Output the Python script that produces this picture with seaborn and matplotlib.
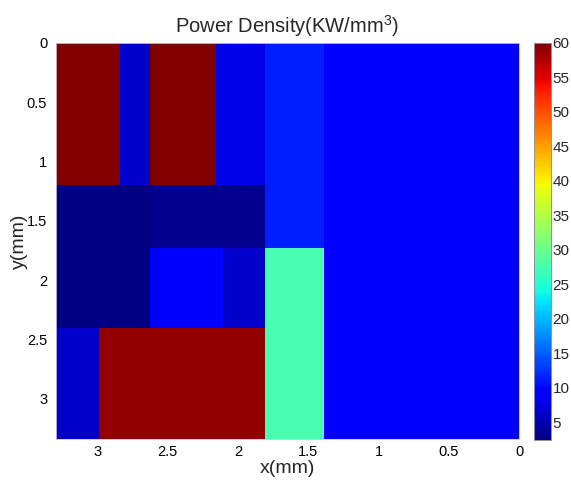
import numpy as np
import matplotlib
matplotlib.use("Agg")
import matplotlib.pyplot as plt
import seaborn as sns

# ---------------- data ----------------
# block edges in mm; x listed left -> right (axis is reversed), y top -> bottom
x_edges = [3.30, 2.99, 2.84, 2.63, 2.16, 2.11, 1.81, 1.39, 0.00]
y_edges = [0.00, 1.20, 1.725, 2.40, 3.34]
# power density (KW/mm^3) of each block: rows = y bands, cols = x bands
power_row0 = [60.0, 60.0, 6.3, 60.0, 7.7, 7.7, 11.3, 9.5]
power_row1 = [2.4, 2.4, 2.4, 3.3, 3.3, 3.3, 11.3, 9.5]
power_row2 = [2.4, 2.4, 2.4, 9.5, 9.5, 6.2, 27.5, 9.5]
power_row3 = [6.0, 59.0, 59.0, 59.0, 59.0, 59.0, 27.5, 9.5]
x_ticks = [3, 2.5, 2, 1.5, 1, 0.5, 0]
y_ticks = [0, 0.5, 1, 1.5, 2, 2.5, 3]
cbar_ticks = [5, 10, 15, 20, 25, 30, 35, 40, 45, 50, 55, 60]
c_min, c_max = 2.4, 60.0

# ---------------- build a uniform grid from the blocks ----------------
step = 0.005
power = np.array([power_row0, power_row1, power_row2, power_row3])
x_hi, y_hi = x_edges[0], y_edges[-1]
nx = int(round((x_hi - x_edges[-1]) / step))
ny = int(round((y_hi - y_edges[0]) / step))
xc = x_hi - (np.arange(nx) + 0.5) * step
yc = y_edges[0] + (np.arange(ny) + 0.5) * step
col_idx = np.searchsorted(-np.array(x_edges), -xc, side="right") - 1
row_idx = np.searchsorted(np.array(y_edges), yc, side="right") - 1
grid = power[row_idx[:, None], col_idx[None, :]]

# ---------------- style ----------------
sns.set_style("white")
plt.rcParams["font.family"] = ["Liberation Sans", "DejaVu Sans"]
plt.rcParams["mathtext.fontset"] = "custom"
plt.rcParams["mathtext.rm"] = "Liberation Sans"
plt.rcParams["mathtext.it"] = "Liberation Sans:italic"

W, H = 571, 482
fig = plt.figure(figsize=(W / 100, H / 100), dpi=100)
ax = fig.add_axes([55.5 / W, 1 - 439 / H, (519 - 55.5) / W, (439 - 43) / H])
cax = fig.add_axes([534 / W, 1 - 440 / H, 17 / W, (440 - 43) / H])

sns.heatmap(grid, ax=ax, cmap="jet", vmin=c_min, vmax=c_max, cbar_ax=cax,
            xticklabels=False, yticklabels=False, rasterized=True)

ax.set_xticks([(x_hi - t) / step for t in x_ticks])
ax.set_xticklabels([f"{t:g}" for t in x_ticks], rotation=0)
ax.set_yticks([(t - y_edges[0]) / step for t in y_ticks])
ax.set_yticklabels([f"{t:g}" for t in y_ticks], rotation=0)
ax.tick_params(length=0, labelsize=10.5, pad=4, colors="black")
ax.tick_params(axis="y", pad=6)
for s in ax.spines.values():
    s.set_visible(True)
    s.set_color("#c8c8dc")
    s.set_linewidth(0.6)

ax.set_xlabel("x(mm)", fontsize=14, labelpad=1)
ax.set_ylabel("y(mm)", fontsize=14, labelpad=-1)
ax.set_title("Power Density(KW/mm$^{3}$)", fontsize=14.5, pad=7)

cax.set_yticks(cbar_ticks)
cax.set_yticklabels([str(t) for t in cbar_ticks])
cax.yaxis.set_ticks_position("both")
cax.tick_params(axis="y", direction="in", length=4, width=0.6, color="#202020",
                labelsize=11, pad=1, left=True, right=True, labelleft=False,
                labelright=True)
for s in cax.spines.values():
    s.set_visible(True)
    s.set_color("#9090a0")
    s.set_linewidth(0.6)

fig.savefig("out.png", dpi=100)
